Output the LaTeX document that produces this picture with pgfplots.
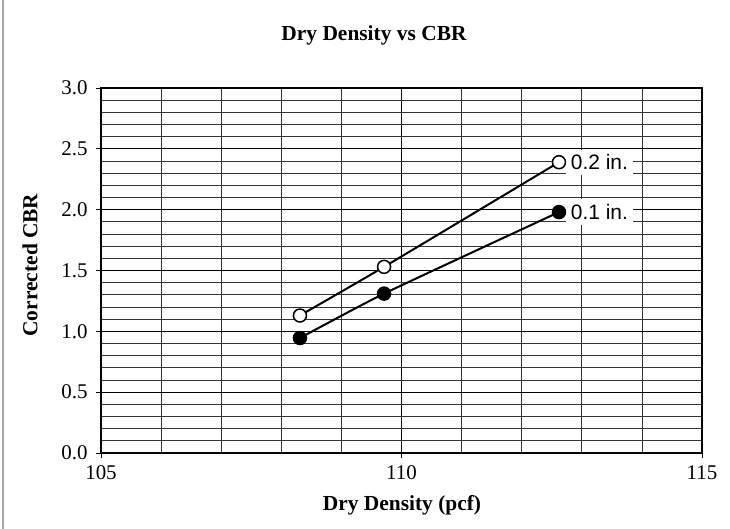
\documentclass[border=0pt]{standalone}
\usepackage{pgfplots}
\pgfplotsset{compat=1.18}
\usepackage{fontspec}
\setmainfont{Liberation Serif}
\newfontfamily\arialfont{Liberation Sans}
\begin{document}
\begin{tikzpicture}[x=1bp,y=1bp]
\useasboundingbox (0,0) rectangle (730,529);
\fill[white] (0,0) rectangle (730,529);
\draw[gray!70, line width=1.5bp] (3,0) -- (3,529);
\begin{axis}[
  at={(101bp,76bp)}, anchor=south west,
  scale only axis, width=601bp, height=365bp,
  xmin=105, xmax=115, ymin=0, ymax=3,
  xtick={105,110,115}, ytick={0,0.5,...,3.0},
  minor x tick num=4, minor y tick num=4,
  grid=both,
  major grid style={black, line width=0.8bp},
  minor grid style={black!80, line width=0.8bp},
  axis line style={black, line width=2bp},
  tick align=outside,
  major tick length=5bp, minor tick length=0bp,
  tick style={black, line width=0.8bp},
  xtick pos=bottom, ytick pos=left,
  /pgf/number format/assume math mode=true,
  yticklabel style={/pgf/number format/fixed, /pgf/number format/fixed zerofill, /pgf/number format/precision=1, font=\fontsize{21}{25}\selectfont, xshift=-5bp},
  xticklabel style={font=\fontsize{21}{25}\selectfont, yshift=-4bp},
  clip=false,
]
\addplot[black, line width=2bp, smooth, tension=0.3, mark=*, mark size=6.5bp,
  mark options={fill=white, draw=black, line width=1.5bp}]
  coordinates {(108.31,1.13) (109.71,1.53) (112.62,2.39)}
  node[pos=1, anchor=west, xshift=6bp, fill=white, inner sep=5bp, font=\arialfont\fontsize{21}{25}\selectfont] {0.2 in.};
\addplot[black, line width=2bp, smooth, tension=0.3, mark=*, mark size=6.5bp,
  mark options={fill=black, draw=black, line width=1.5bp}]
  coordinates {(108.31,0.945) (109.71,1.31) (112.62,1.98)}
  node[pos=1, anchor=west, xshift=6bp, fill=white, inner sep=5bp, font=\arialfont\fontsize{21}{25}\selectfont] {0.1 in.};
\end{axis}
\node[font=\bfseries\fontsize{21.5}{25}\selectfont] at (374,494) {Dry Density vs CBR};
\node[font=\bfseries\fontsize{21.5}{25}\selectfont] at (402,24) {Dry Density (pcf)};
\node[font=\bfseries\fontsize{21.5}{25}\selectfont, rotate=90] at (30,264) {Corrected CBR};
\end{tikzpicture}
\end{document}
